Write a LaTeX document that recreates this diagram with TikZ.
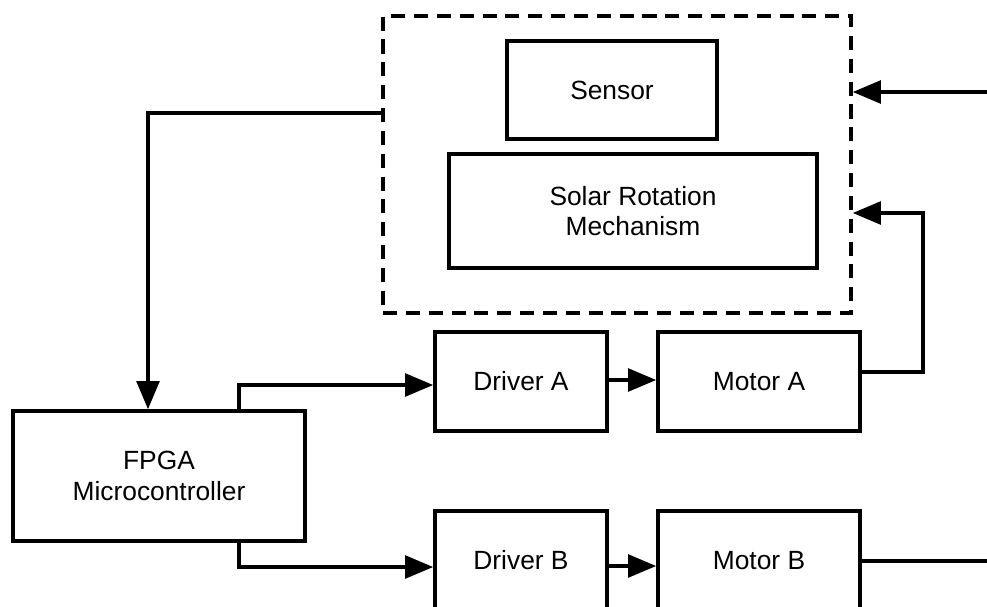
\documentclass[tikz,border=0pt]{standalone}
\usepackage{fontspec}
\setmainfont{Liberation Sans}
\usetikzlibrary{arrows.meta}

\begin{document}
\begin{tikzpicture}[x=0.02cm, y=-0.02cm,
    block/.style={draw, line width=2.1pt, inner sep=0pt, align=center,
        font=\fontsize{15}{17.5}\selectfont},
    group/.style={draw, line width=2.1pt, dash pattern=on 8pt off 5pt, inner sep=0pt},
    link/.style={line width=1.8pt, -{Triangle[length=16pt,width=13pt]}},
    wire/.style={line width=1.8pt}]
    \useasboundingbox (0,0) rectangle (987,606);
    \clip (0,0) rectangle (987,606);

    % tracking unit
    \node[group, minimum width=9.36cm, minimum height=5.94cm] (unit) at (617,164.5) {};
    \node[block, minimum width=4.2cm, minimum height=1.96cm] (sensor) at (612,90) {Sensor};
    \node[block, minimum width=7.36cm, minimum height=2.28cm] (solar) at (633,211) {Solar Rotation\\Mechanism};

    % control and drive
    \node[block, minimum width=5.84cm, minimum height=2.6cm] (fpga) at (159,476) {FPGA\\Microcontroller};
    \node[block, minimum width=3.44cm, minimum height=1.98cm] (drvA) at (521,381.5) {Driver A};
    \node[block, minimum width=4.04cm, minimum height=1.98cm] (motA) at (759,381.5) {Motor A};
    \node[block, minimum width=3.44cm, minimum height=1.98cm] (drvB) at (521,560.5) {Driver B};
    \node[block, minimum width=4.04cm, minimum height=1.98cm] (motB) at (759,560.5) {Motor B};

    \coordinate (inS) at (987,92);
    \coordinate (outB) at (987,561);

    \draw[link] (inS) -- (inS -| unit.east);
    \draw[link] (motA.east |- 0,372) -| (923,213) -- (unit.east |- 0,213);
    \draw[link] (unit.west |- 0,113) -| (148,0 |- fpga.north);
    \draw[link] (239,0 |- fpga.north) |- (drvA.west |- 0,385);
    \draw[link] (239,0 |- fpga.south) |- (drvB.west |- 0,567);
    \draw[link] (drvA.east |- 0,380) -- (motA.west |- 0,380);
    \draw[link] (drvB.east |- 0,566) -- (motB.west |- 0,566);
    \draw[wire] (motB.east |- outB) -- (outB);
\end{tikzpicture}
\end{document}
